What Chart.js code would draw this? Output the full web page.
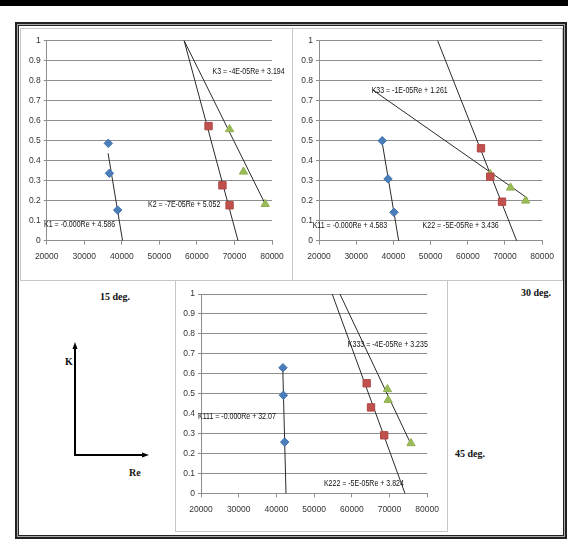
<!DOCTYPE html>
<html><head><meta charset="utf-8">
<script src="https://cdn.jsdelivr.net/npm/chart.js@4"></script>
<style>
html,body{margin:0;padding:0;background:#fff;}
body{width:568px;height:540px;position:relative;overflow:hidden;font-family:"Liberation Serif",serif;}
.abs{position:absolute;box-sizing:border-box;}
#topbar{left:0;top:0;width:568px;height:6px;background:#000;}
#f1{left:15px;top:22px;width:552px;height:517px;border:2px solid #222;}
#f2{left:17px;top:24px;width:548px;height:513px;border:1px solid #a8a8a8;}
#f3{left:18px;top:25px;width:546px;height:511px;border:1px solid #222;}
.panel{border:1px solid #c6c6c6;}
#p1{left:20px;top:28px;width:273px;height:253px;}
#p2{left:292px;top:28px;width:271px;height:253px;}
#p3{left:175px;top:280px;width:273px;height:252px;}
canvas{position:absolute;}
.deg{position:absolute;font:bold 10px "Liberation Serif",serif;color:#111;white-space:nowrap;line-height:12px;}
</style>
</head><body>
<div id="topbar" class="abs"></div>
<div id="f1" class="abs"></div>
<div id="f2" class="abs"></div>
<div id="f3" class="abs"></div>
<div id="p1" class="abs panel"></div>
<div id="p2" class="abs panel"></div>
<div id="p3" class="abs panel"></div>
<canvas id="c1" width="270" height="250" style="left:21px;top:29px;"></canvas>
<canvas id="c2" width="268" height="250" style="left:293px;top:29px;"></canvas>
<canvas id="c3" width="270" height="249" style="left:176px;top:281px;"></canvas>
<div class="deg" style="left:100px;top:291px;">15 deg.</div>
<div class="deg" style="left:521px;top:287px;">30 deg.</div>
<div class="deg" style="left:455px;top:448px;">45 deg.</div>
<div class="deg" style="left:65px;top:356px;">K</div>
<div class="deg" style="left:129px;top:467px;">Re</div>
<svg class="abs" style="left:60px;top:335px;" width="100" height="130">
  <line x1="15" y1="12" x2="15" y2="121" stroke="#000" stroke-width="2"/>
  <polygon points="15,7 12.5,14 17.5,14" fill="#000"/>
  <line x1="14" y1="120" x2="84" y2="120" stroke="#000" stroke-width="2"/>
  <polygon points="89,120 82,117.5 82,122.5" fill="#000"/>
</svg>
<script>
// ---- tick labels ----
const xTickValues = [20000, 30000, 40000, 50000, 60000, 70000, 80000];
const yTickLabels = ['0', '0.1', '0.2', '0.3', '0.4', '0.5', '0.6', '0.7', '0.8', '0.9', '1'];

// ---- 15 deg ----
const re15_1 = [36400, 36700, 38900];
const k15_1  = [0.487, 0.337, 0.153];
const re15_2 = [63100, 66800, 68700];
const k15_2  = [0.573, 0.277, 0.177];
const re15_3 = [68700, 72400, 78200];
const k15_3  = [0.557, 0.345, 0.183];
const trendRe15_1 = [36350, 40200];
const trendK15_1  = [0.437, 0];
const trendRe15_2 = [56600, 70950];
const trendK15_2  = [1, 0];
const trendRe15_3 = [56600, 78200];
const trendK15_3  = [1, 0.183];
const eq15 = ['K1 = -0.000Re + 4.586', 'K2 = -7E-05Re + 5.052', 'K3 = -4E-05Re + 3.194'];
const eqRe15 = [19300, 47000, 64150];
const eqK15  = [0.0785, 0.1785, 0.845];

// ---- 30 deg ----
const re30_1 = [37000, 38550, 40150];
const k30_1  = [0.5, 0.309, 0.142];
const re30_2 = [63550, 66050, 69200];
const k30_2  = [0.462, 0.32, 0.195];
const re30_3 = [66050, 71500, 75550];
const k30_3  = [0.333, 0.265, 0.2];
const trendRe30_1 = [36950, 41420];
const trendK30_1  = [0.495, 0];
const trendRe30_2 = [51900, 73130];
const trendK30_2  = [1, 0];
const trendRe30_3 = [34500, 76100];
const trendK30_3  = [0.753, 0.212];
const eq30 = ['K11 = -0.000Re + 4.583', 'K22 = -5E-05Re + 3.436', 'K33 = -1E-05Re + 1.261'];
const eqRe30 = [18300, 47850, 34150];
const eqK30  = [0.0735, 0.0735, 0.753];

// ---- 45 deg ----
const re45_1 = [41750, 41850, 42200];
const k45_1  = [0.63, 0.492, 0.257];
const re45_2 = [63950, 65100, 68600];
const k45_2  = [0.552, 0.431, 0.291];
const re45_3 = [69450, 69650, 75700];
const k45_3  = [0.522, 0.468, 0.251];
const trendRe45_1 = [41700, 42550];
const trendK45_1  = [0.62, 0];
const trendRe45_2 = [54800, 74100];
const trendK45_2  = [1, 0];
const trendRe45_3 = [56850, 75600];
const trendK45_3  = [1, 0.25];
const eq45 = ['K111 = -0.000Re + 32.07', 'K222 = -5E-05Re + 3.824', 'K333 = -4E-05Re + 3.235'];
const eqRe45 = [19200, 52600, 58950];
const eqK45  = [0.384, 0.0467, 0.749];

const FONT = '"Liberation Sans", Arial, sans-serif';
Chart.defaults.font.family = FONT;
Chart.defaults.font.size = 8.5;
Chart.defaults.color = '#333';

const pts = (xs, ys) => xs.map((v, i) => ({x: v, y: ys[i]}));

const eqPlugin = {
  id: 'eqLabels',
  afterDatasetsDraw(chart, args, opts) {
    const {ctx} = chart;
    const xs = chart.scales.x, ys = chart.scales.y;
    ctx.save();
    ctx.font = '9px ' + FONT;
    ctx.fillStyle = '#111';
    ctx.textAlign = 'left';
    ctx.textBaseline = 'middle';
    opts.texts.forEach((t, i) => {
      ctx.save();
      ctx.translate(xs.getPixelForValue(opts.re[i]), ys.getPixelForValue(opts.k[i]));
      ctx.scale(0.78, 1);
      ctx.fillText(t, 0, 0);
      ctx.restore();
    });
    ctx.restore();
  }
};

function makeChart(id, s, tr, eq, lay) {
  const grey = '#8e8e8e';
  new Chart(document.getElementById(id), {
    type: 'scatter',
    data: {
      datasets: [
        {data: pts(s[0], s[1]), pointStyle: 'rectRot', pointRadius: 4.2, backgroundColor: '#4a7ebb', borderColor: '#3f70ad', borderWidth: 1},
        {data: pts(s[2], s[3]), pointStyle: 'rect', pointRadius: 5.2, backgroundColor: '#c0504d', borderColor: '#b04844', borderWidth: 1},
        {data: pts(s[4], s[5]), pointStyle: 'triangle', pointRadius: 4.8, backgroundColor: '#9bbb59', borderColor: '#8fb04e', borderWidth: 1},
        {data: pts(tr[0], tr[1]), showLine: true, pointRadius: 0, borderColor: '#2a2a2a', borderWidth: 1},
        {data: pts(tr[2], tr[3]), showLine: true, pointRadius: 0, borderColor: '#2a2a2a', borderWidth: 1},
        {data: pts(tr[4], tr[5]), showLine: true, pointRadius: 0, borderColor: '#2a2a2a', borderWidth: 1}
      ]
    },
    options: {
      responsive: false,
      animation: false,
      events: [],
      clip: false,
      layout: {padding: {left: 0, top: lay.top, right: lay.right, bottom: 0}},
      plugins: {legend: {display: false}, tooltip: {enabled: false}, eqLabels: eq},
      scales: {
        x: {
          type: 'linear', min: 20000, max: 80000,
          afterBuildTicks: sc => { sc.ticks = xTickValues.map(v => ({value: v})); },
          afterFit: sc => { sc.height = lay.xh; },
          ticks: {callback: v => String(v), padding: 7, maxRotation: 0, autoSkip: false},
          grid: {drawOnChartArea: false, drawTicks: true, tickLength: 4, color: grey},
          border: {color: grey, width: 1}
        },
        y: {
          type: 'linear', min: 0, max: 1,
          afterBuildTicks: sc => { sc.ticks = yTickLabels.map((t, i) => ({value: i / 10})); },
          afterFit: sc => { sc.width = lay.yw; },
          ticks: {callback: (v, i) => yTickLabels[i], padding: 3, autoSkip: false},
          grid: {color: grey, tickLength: 3, lineWidth: 1},
          border: {color: grey, width: 1}
        }
      }
    },
    plugins: [eqPlugin]
  });
}

makeChart('c1',
  [re15_1, k15_1, re15_2, k15_2, re15_3, k15_3],
  [trendRe15_1, trendK15_1, trendRe15_2, trendK15_2, trendRe15_3, trendK15_3],
  {texts: eq15, re: eqRe15, k: eqK15},
  {top: 11.7, right: 19, xh: 38.3, yw: 25.7});
makeChart('c2',
  [re30_1, k30_1, re30_2, k30_2, re30_3, k30_3],
  [trendRe30_1, trendK30_1, trendRe30_2, trendK30_2, trendRe30_3, trendK30_3],
  {texts: eq30, re: eqRe30, k: eqK30},
  {top: 11.7, right: 18.7, xh: 38.3, yw: 26});
makeChart('c3',
  [re45_1, k45_1, re45_2, k45_2, re45_3, k45_3],
  [trendRe45_1, trendK45_1, trendRe45_2, trendK45_2, trendRe45_3, trendK45_3],
  {texts: eq45, re: eqRe45, k: eqK45},
  {top: 13, right: 17, xh: 36.7, yw: 25});
</script>
</body></html>
